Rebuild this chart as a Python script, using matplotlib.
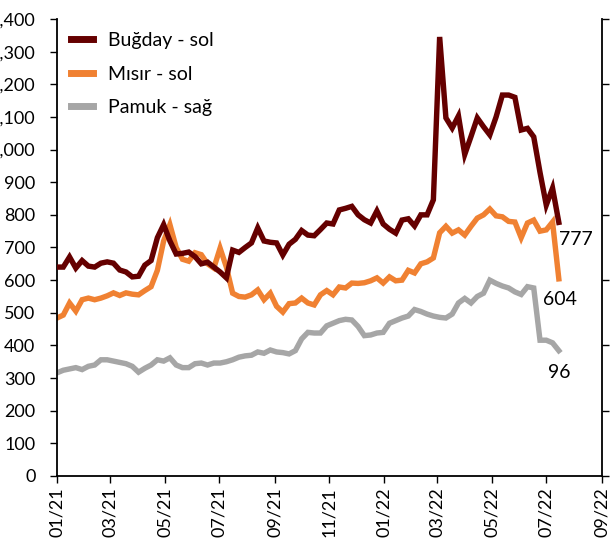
import matplotlib
matplotlib.use("Agg")
import matplotlib.pyplot as plt
import matplotlib.dates as mdates
import pandas as pd

plt.rcParams['font.family'] = ['Lato', 'DejaVu Sans']

start_date = '2021-01-01'
n_weeks = 81

wheat = [640, 640, 671, 637, 660, 643, 640, 652, 656, 652,
         631, 625, 610, 612, 646, 660, 730, 770, 720, 680,
         682, 686, 672, 650, 655, 640, 625, 607, 692, 685,
         700, 714, 760, 720, 716, 714, 677, 710, 725, 752,
         738, 736, 755, 775, 772, 815, 820, 826, 800, 785,
         775, 812, 772, 756, 744, 784, 788, 766, 800, 800,
         846, 1345, 1097, 1066, 1103, 985, 1040, 1097, 1070, 1045,
         1100, 1167, 1167, 1160, 1060, 1065, 1039, 930, 830, 882,
         777]

corn = [484, 493, 530, 505, 540, 545, 540, 545, 552, 561,
        553, 561, 557, 555, 568, 580, 630, 720, 770, 700,
        664, 658, 684, 678, 650, 637, 698, 640, 560, 550,
        548, 555, 570, 540, 560, 520, 502, 528, 530, 545,
        530, 524, 555, 568, 555, 579, 576, 591, 590, 592,
        598, 607, 591, 610, 598, 600, 630, 622, 650, 656,
        668, 745, 765, 744, 754, 738, 765, 790, 800, 818,
        797, 794, 780, 778, 730, 775, 784, 750, 754, 778,
        604]

cotton = [79, 81, 82, 83, 81.5, 84, 85, 89, 89, 88,
          87, 86, 84, 79.5, 82.5, 85, 89, 88, 90.5, 85,
          83, 83, 86, 86.5, 85, 86.5, 86.5, 87.5, 89, 91,
          92, 92.5, 95, 94, 96.5, 95, 94.5, 93.5, 96, 105,
          110, 109.5, 109.5, 115, 117, 119, 120, 119.5, 114.5, 107.5,
          108, 109.5, 110, 117, 119, 121, 122.5, 127.5, 126, 124,
          122.5, 121.5, 121, 124, 132.5, 136, 132.5, 137.5, 140, 150,
          147.5, 145.5, 144, 141, 139, 145, 144, 104, 104, 102,
          96]

labels = ['Buğday - sol', 'Mısır - sol', 'Pamuk - sağ']
colors = ['#650000', '#F08132', '#A6A6A6']

dates = pd.date_range(start_date, periods=n_weeks, freq='7D')

fig = plt.figure(figsize=(6.11, 5.54), dpi=100)
ax = fig.add_axes([0.0933, 0.1408, 0.8917, 0.8249])
ax2 = ax.twinx()

lw = 3.9
l1, = ax.plot(dates, wheat, color=colors[0], lw=lw, solid_joinstyle='miter', zorder=3)
l2, = ax.plot(dates, corn, color=colors[1], lw=lw, solid_joinstyle='miter', zorder=2)
l3, = ax2.plot(dates, cotton, color=colors[2], lw=lw, solid_joinstyle='miter', zorder=1)
ax.set_zorder(ax2.get_zorder() + 1)
ax.patch.set_visible(False)

ax.set_ylim(0, 1400)
ax.set_yticks(range(0, 1401, 100))
ax.yaxis.set_major_formatter(matplotlib.ticker.FuncFormatter(lambda v, p: f'{v:,.0f}'))
ax2.set_ylim(0, 350)
ax2.set_yticks(range(0, 351, 50))
ax2.tick_params(axis='y', direction='out', length=5, width=1, labelright=False)

ax.set_xlim(pd.Timestamp('2021-01-01'), pd.Timestamp('2022-09-01'))
ax.xaxis.set_major_locator(mdates.MonthLocator(bymonth=[1, 3, 5, 7, 9, 11]))
ax.xaxis.set_major_formatter(mdates.DateFormatter('%m/%y'))
ax.tick_params(axis='x', direction='out', length=5, width=1, labelsize=13, rotation=90, pad=3)
ax.tick_params(axis='y', direction='out', length=5, width=1, labelsize=13, pad=10.5)

for a in (ax, ax2):
    a.spines['top'].set_visible(False)
    for s in ('left', 'right', 'bottom'):
        a.spines[s].set_linewidth(1.3)
ax.spines['right'].set_visible(False)
ax2.spines['left'].set_visible(False)
ax2.spines['bottom'].set_visible(False)

ax.annotate(f'{wheat[-1]}', xy=(dates[-1], wheat[-1]), xytext=(0, -17),
            textcoords='offset pixels', ha='left', va='center', fontsize=14)
ax.annotate(f'{corn[-1]}', xy=(dates[-1], corn[-1]), xytext=(1, -21),
            textcoords='offset pixels', ha='center', va='center', fontsize=14)
ax2.annotate(f'{cotton[-1]:.0f}', xy=(dates[-1], cotton[-1]), xytext=(0, -22),
             textcoords='offset pixels', ha='center', va='center', fontsize=14)

leg = ax.legend([l1, l2, l3], labels, loc='upper left', bbox_to_anchor=(0.011, 0.988),
                frameon=False, fontsize=14, handlelength=1.15, handletextpad=0.75,
                labelspacing=0.84, borderaxespad=0)
for h in leg.get_lines():
    h.set_linewidth(5)

fig.savefig('out.png', dpi=100)
